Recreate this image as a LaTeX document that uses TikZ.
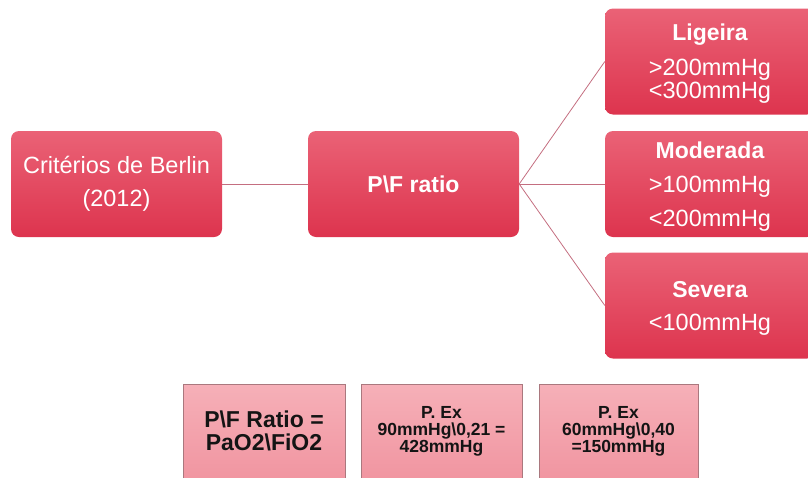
\documentclass[tikz,border=0pt]{standalone}
\usepackage{fontspec}
\setmainfont{Liberation Sans}
\usetikzlibrary{positioning}

\definecolor{boxtop}{RGB}{234,98,118}
\definecolor{boxbot}{RGB}{221,52,78}
\definecolor{pinktop}{RGB}{246,176,184}
\definecolor{pinkbot}{RGB}{240,146,158}
\definecolor{pinkedge}{RGB}{170,120,126}
\definecolor{linkcol}{RGB}{196,110,128}

\tikzset{
  mainbox/.style={draw=none, rounded corners=8pt, top color=boxtop, bottom color=boxbot,
    minimum width=#1, minimum height=106pt, inner sep=0pt},
  notebox/.style={draw=pinkedge, line width=0.6pt, top color=pinktop, bottom color=pinkbot,
    minimum width=#1, minimum height=106pt, inner sep=0pt},
  link/.style={draw=linkcol, line width=0.8pt},
  wtxt/.style={anchor=base, text=white, inner sep=0pt, font=\fontsize{23.5}{26}\selectfont},
  wbold/.style={anchor=base, text=white, inner sep=0pt, font=\bfseries\fontsize{23}{26}\selectfont},
  kbig/.style={anchor=base, text=black!92, inner sep=0pt, font=\bfseries\fontsize{23}{26}\selectfont},
  ksmall/.style={anchor=base, text=black!92, inner sep=0pt, font=\bfseries\fontsize{17.5}{20}\selectfont},
}

\begin{document}
\begin{tikzpicture}[x=1pt, y=-1pt]
  \useasboundingbox (0,0) rectangle (808,477);
  \clip (0,0) rectangle (808,477);

  % hierarchy boxes
  \node[mainbox=211pt] (crit) at (116.5,184) {};
  \node[mainbox=211pt] (ratio) at (413.5,184) {};
  \node[mainbox=210pt] (lig) at (710,61.5) {};
  \node[mainbox=210pt] (mod) at (710,184) {};
  \node[mainbox=210pt] (sev) at (710,305.5) {};

  % connectors
  \draw[link] (crit.east) -- (ratio.west);
  \draw[link] (ratio.east) -- (lig.west);
  \draw[link] (ratio.east) -- (mod.west);
  \draw[link] (ratio.east) -- (sev.west);

  % box texts
  \node[wtxt] (crit1) at (116.5,173) {Critérios de Berlin};
  \node[wtxt] (crit2) at (116.5,206) {(2012)};
  \node[wbold] (ratio1) at (413.5,192) {P\textbackslash F ratio};

  \node[wbold] (lig1) at (710,40) {Ligeira};
  \node[wtxt] (lig2) at (710,75) {>200mmHg};
  \node[wtxt] (lig3) at (710,98) {<300mmHg};

  \node[wbold] (mod1) at (710,158) {Moderada};
  \node[wtxt] (mod2) at (710,192) {>100mmHg};
  \node[wtxt] (mod3) at (710,226) {<200mmHg};

  \node[wbold] (sev1) at (710,297) {Severa};
  \node[wtxt] (sev2) at (710,330) {<100mmHg};

  % formula notes
  \node[notebox=162pt] (note1) at (264,437) {};
  \node[notebox=161pt] (note2) at (441.5,437) {};
  \node[notebox=159pt] (note3) at (618.5,437) {};

  \node[kbig] (n1a) at (264,427) {P\textbackslash F Ratio =};
  \node[kbig] (n1b) at (264,450) {PaO2\textbackslash FiO2};

  \node[ksmall] (n2a) at (441.5,418) {P. Ex};
  \node[ksmall] (n2b) at (441.5,435) {90mmHg\textbackslash 0,21 =};
  \node[ksmall] (n2c) at (441.5,452) {428mmHg};

  \node[ksmall] (n3a) at (618.5,418) {P. Ex};
  \node[ksmall] (n3b) at (618.5,435) {60mmHg\textbackslash 0,40};
  \node[ksmall] (n3c) at (618.5,452) {=150mmHg};
\end{tikzpicture}
\end{document}
